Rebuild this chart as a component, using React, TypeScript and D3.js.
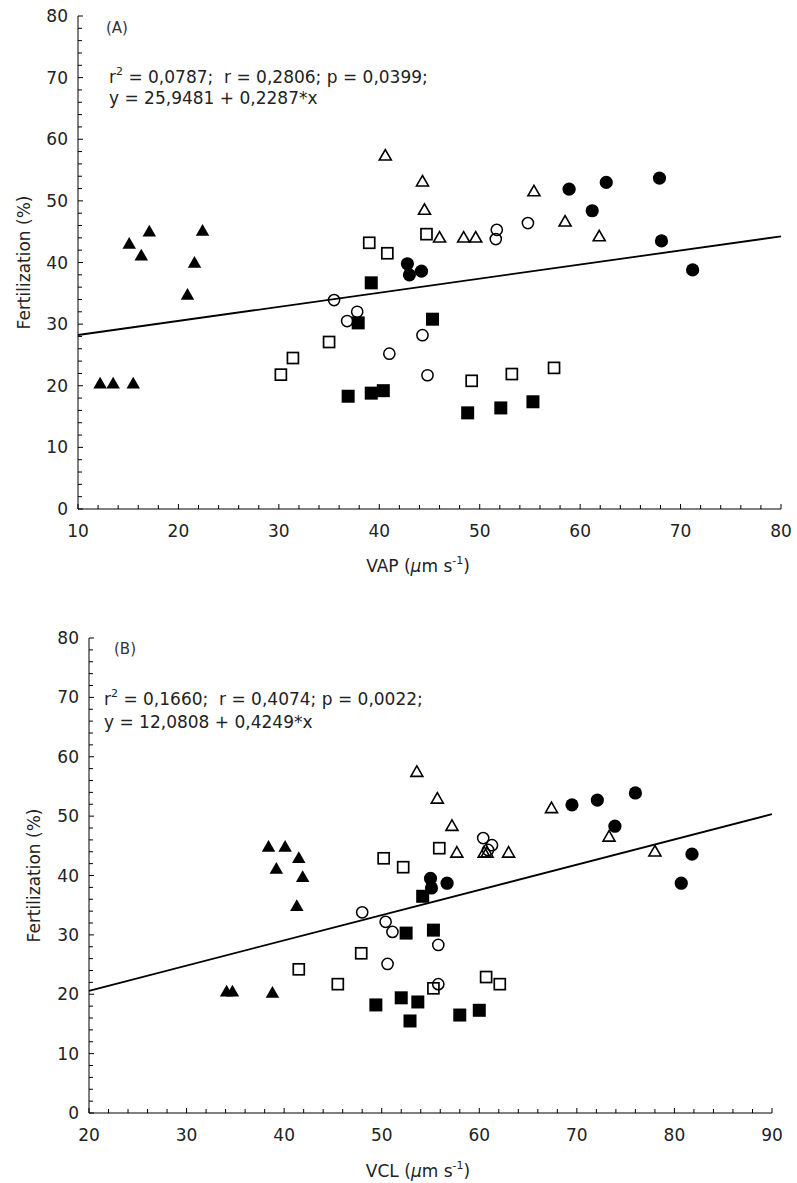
import React from 'react';
import * as d3 from 'd3';

// Panel A: VAP vs fertilization
const vapTriFilled = [[12.2, 20.3], [13.5, 20.3], [15.5, 20.3], [15.1, 43.0], [16.3, 41.1], [17.1, 45.0], [20.9, 34.7], [21.6, 39.9], [22.4, 45.1]];
const vapTriOpen = [[40.6, 57.3], [44.3, 53.1], [44.5, 48.5], [46.0, 44.0], [48.4, 44.0], [49.6, 44.0], [55.4, 51.5], [58.5, 46.6], [61.9, 44.2]];
const vapSqOpen = [[39.0, 43.2], [40.8, 41.5], [44.7, 44.6], [30.2, 21.8], [31.4, 24.5], [35.0, 27.1], [49.2, 20.8], [53.2, 21.9], [57.4, 22.9]];
const vapSqFilled = [[39.2, 36.7], [37.9, 30.2], [36.9, 18.3], [39.2, 18.8], [40.4, 19.2], [45.3, 30.8], [48.8, 15.6], [52.1, 16.4], [55.3, 17.4]];
const vapCircOpen = [[35.5, 33.9], [36.8, 30.5], [37.8, 32.0], [41.0, 25.2], [44.3, 28.2], [44.8, 21.7], [51.7, 45.3], [51.6, 43.8], [54.8, 46.4]];
const vapCircFilled = [[42.8, 39.8], [43.0, 38.0], [44.2, 38.6], [58.9, 51.9], [62.6, 53.0], [61.2, 48.4], [67.9, 53.7], [68.1, 43.5], [71.2, 38.8]];

// Panel B: VCL vs fertilization
const vclTriFilled = [[38.4, 44.8], [40.1, 44.8], [41.5, 42.9], [39.2, 41.1], [41.9, 39.7], [41.3, 34.8], [34.1, 20.4], [34.7, 20.4], [38.8, 20.2]];
const vclTriOpen = [[53.6, 57.4], [55.7, 52.9], [57.2, 48.3], [57.7, 43.8], [60.5, 43.8], [60.8, 43.8], [63.0, 43.8], [67.4, 51.3], [73.3, 46.5], [78.0, 44.0]];
const vclSqOpen = [[50.2, 42.9], [52.2, 41.4], [55.9, 44.6], [41.5, 24.2], [45.5, 21.7], [47.9, 26.9], [55.3, 21.0], [60.7, 22.9], [62.1, 21.7]];
const vclSqFilled = [[54.2, 36.5], [52.5, 30.3], [55.3, 30.8], [49.4, 18.2], [52.0, 19.4], [53.7, 18.7], [52.9, 15.5], [58.0, 16.5], [60.0, 17.3]];
const vclCircOpen = [[48.0, 33.8], [50.4, 32.2], [51.1, 30.5], [50.6, 25.1], [55.8, 28.3], [55.8, 21.7], [60.4, 46.3], [61.3, 45.1], [60.9, 44.3]];
const vclCircFilled = [[55.0, 39.5], [55.1, 37.9], [56.7, 38.7], [69.5, 51.9], [72.1, 52.7], [73.9, 48.3], [76.0, 53.9], [81.8, 43.6], [80.7, 38.7]];

const yTicks = [0, 10, 20, 30, 40, 50, 60, 70, 80];
const vapTicks = [10, 20, 30, 40, 50, 60, 70, 80];
const vclTicks = [20, 30, 40, 50, 60, 70, 80, 90];

const font = '"DejaVu Sans", "Liberation Sans", Arial, sans-serif';

type Pt = number[];

const Marker = ({ kind, x, y }: { kind: string; x: number; y: number }) => {
  if (kind === 'triFilled' || kind === 'triOpen') {
    const s = kind === 'triFilled' ? 13.5 : 12;
    const h = s * 0.87;
    const d = `M${x},${y - h * 0.6}L${x + s / 2},${y + h * 0.4}L${x - s / 2},${y + h * 0.4}Z`;
    return kind === 'triFilled'
      ? <path d={d} fill="#000" />
      : <path d={d} fill="none" stroke="#000" strokeWidth={1.6} />;
  }
  if (kind === 'sqFilled') return <rect x={x - 6.5} y={y - 6.5} width={13} height={13} fill="#000" />;
  if (kind === 'sqOpen') return <rect x={x - 5.5} y={y - 5.5} width={11} height={11} fill="none" stroke="#000" strokeWidth={1.7} />;
  if (kind === 'circFilled') return <circle cx={x} cy={y} r={6.6} fill="#000" />;
  return <circle cx={x} cy={y} r={5.6} fill="none" stroke="#000" strokeWidth={1.5} />;
};

const Panel = (p: any) => {
  const x = d3.scaleLinear().domain(p.xDomain).range([p.left, p.right]);
  const y = d3.scaleLinear().domain([0, 80]).range([p.bottom, p.top]);
  const minorX = d3.range(p.xDomain[0], p.xDomain[1] + 0.001, 2);
  const minorY = d3.range(0, 80.001, 2);
  const line = d3.line<number>().x((v) => x(v)).y((v) => y(p.a + p.b * v));
  const groups: [string, Pt[]][] = p.groups;
  return (
    <g fontFamily={font}>
      <path d={line(p.xDomain) || ''} stroke="#000" strokeWidth={1.8} fill="none" />
      {groups.map(([kind, pts]) =>
        pts.map((d, i) => <Marker key={kind + i} kind={kind} x={x(d[0])} y={y(d[1])} />)
      )}
      <line x1={p.left} x2={p.left} y1={p.top} y2={p.bottom} stroke="#000" strokeWidth={1} />
      <line x1={p.left} x2={p.right} y1={p.bottom} y2={p.bottom} stroke="#000" strokeWidth={1} />
      {minorY.map((v) => (
        <line key={'my' + v} x1={p.left} x2={p.left + (v % 10 === 0 ? 5 : 4)} y1={y(v)} y2={y(v)} stroke="#000" />
      ))}
      {minorX.map((v) => (
        <line key={'mx' + v} x1={x(v)} x2={x(v)} y1={p.bottom} y2={p.bottom - (v % 10 === 0 ? 5 : 4)} stroke="#000" />
      ))}
      {yTicks.map((v) => (
        <text key={'ty' + v} x={p.left - 10} y={y(v) + 6} textAnchor="end" fontSize={17} fill="#222">{v}</text>
      ))}
      {p.xTicks.map((v: number) => (
        <text key={'tx' + v} x={x(v)} y={p.bottom + 28} textAnchor="middle" fontSize={17} fill="#222">{v}</text>
      ))}
      <text x={p.xTitleX} y={p.xTitleY} textAnchor="middle" fontSize={17} fill="#222">
        {p.xName} (<tspan fontStyle="italic">μ</tspan>m s<tspan fontSize={11} dy={-8}>-1</tspan><tspan dy={8}>)</tspan>
      </text>
      <text transform={`translate(${p.yTitleX},${(p.top + p.bottom) / 2}) rotate(-90)`} textAnchor="middle" fontSize={17} fill="#222">
        Fertilization (%)
      </text>
      <text x={p.tagX} y={p.tagY} fontSize={15} fill="#333">{p.tag}</text>
      <text x={p.statX} y={p.statY} fontSize={17} fill="#222">
        r<tspan fontSize={11} dy={-8}>2</tspan><tspan dy={8}>{p.stat1}</tspan>
      </text>
      <text x={p.statX} y={p.statY + p.statGap} fontSize={17} fill="#222">{p.stat2}</text>
    </g>
  );
};

export default function App() {
  return (
    <svg width={797} height={1183} style={{ position: 'absolute', left: 0, top: 0, background: '#fff' }}>
      <rect width={797} height={1183} fill="#fff" />
      <Panel
        xDomain={[10, 80]} left={78} right={781} top={16} bottom={509}
        xTicks={vapTicks} a={25.9481} b={0.2287}
        groups={[['triFilled', vapTriFilled], ['triOpen', vapTriOpen], ['sqOpen', vapSqOpen], ['sqFilled', vapSqFilled], ['circOpen', vapCircOpen], ['circFilled', vapCircFilled]]}
        xName="VAP" xTitleX={418} xTitleY={572} yTitleX={30}
        tag="(A)" tagX={106} tagY={33}
        statX={109} statY={83} statGap={21}
        stat1={' = 0,0787;\u00a0\u00a0r = 0,2806; p = 0,0399;'} stat2="y = 25,9481 + 0,2287*x"
      />
      <Panel
        xDomain={[20, 90]} left={89} right={772} top={638} bottom={1113}
        xTicks={vclTicks} a={12.0808} b={0.4249}
        groups={[['triFilled', vclTriFilled], ['triOpen', vclTriOpen], ['sqOpen', vclSqOpen], ['sqFilled', vclSqFilled], ['circOpen', vclCircOpen], ['circFilled', vclCircFilled]]}
        xName="VCL" xTitleX={418} xTitleY={1177} yTitleX={40}
        tag="(B)" tagX={114} tagY={654}
        statX={104} statY={705} statGap={23}
        stat1={' = 0,1660;\u00a0\u00a0r = 0,4074; p = 0,0022;'} stat2="y = 12,0808 + 0,4249*x"
      />
    </svg>
  );
}
